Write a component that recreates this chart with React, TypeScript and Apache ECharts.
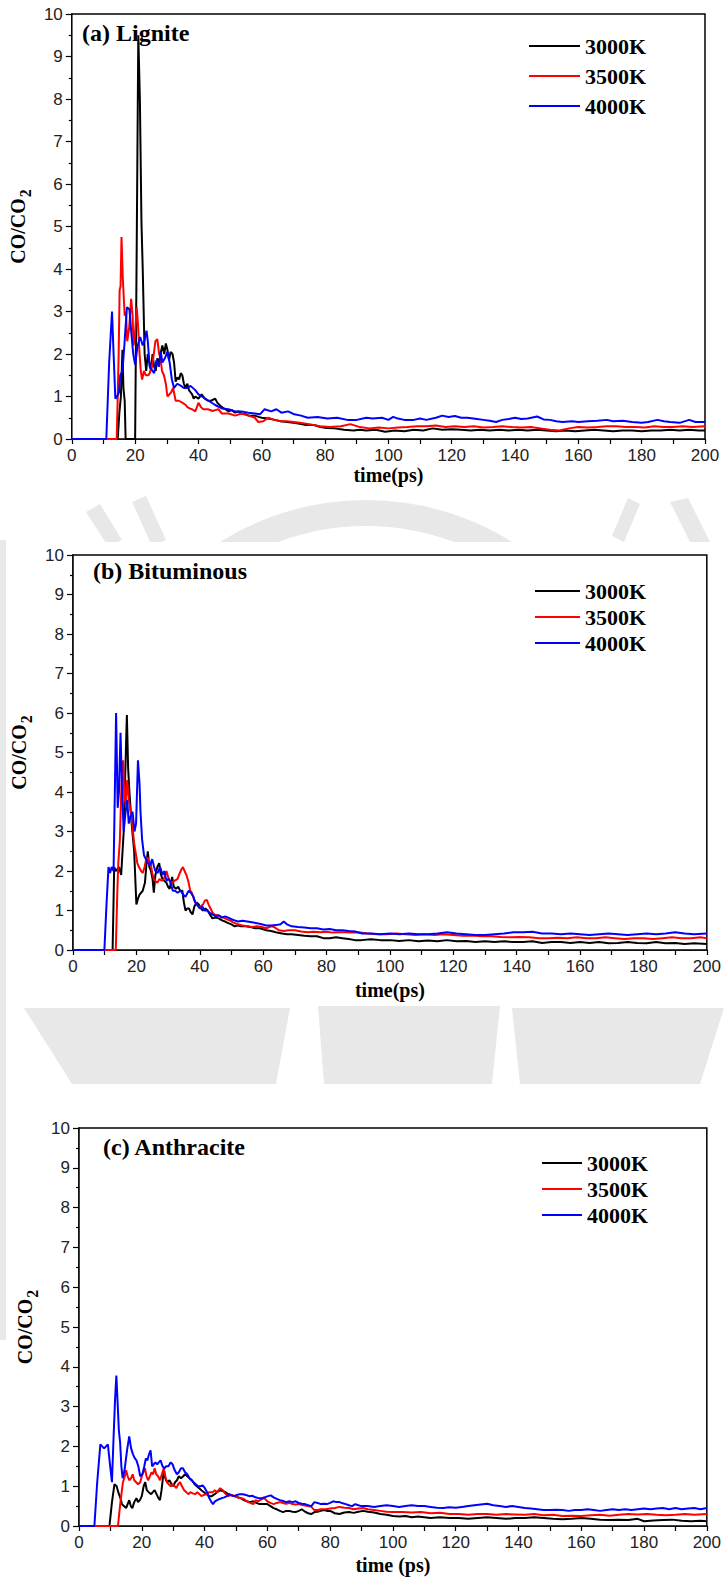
import React, { useEffect, useRef } from "react";
import * as echarts from "echarts";

// ---------- data ----------
const seriesNames = ["3000K", "3500K", "4000K"];
const seriesColors = ["#000000", "#ff0000", "#0000ff"];
const panelTitles = ["(a) Lignite", "(b) Bituminous", "(c) Anthracite"];
const xAxisNames = ["time(ps)", "time(ps)", "time (ps)"];
const yAxisName = "{m|CO/CO}{s|2}";

// (a) Lignite
const lignite3000 = [
  [0, 0], [14.5, 0], [15, 0.6], [15.5, 1.0], [16, 2.1], [16.3, 1.2], [16.7, 0.9], [17, 0], [20, 0], [20.5, 4.5], [21, 9.5], [21.5, 8.0], [22, 5.1], [22.4, 4.0], [23, 2.0], [23.5, 1.6], [24, 2.0], [24.5, 1.8], [25, 1.6], [25.5, 2.0], [26, 1.7], [26.5, 1.6], [27, 1.9], [27.5, 1.75], [28, 2.0], [28.6, 2.2], [29.2, 2.0], [29.7, 2.25], [30.2, 2.1], [30.7, 1.85], [31.2, 2.05], [31.8, 2.0], [32.3, 1.8], [32.8, 1.35], [33.4, 1.45], [33.9, 1.4], [34.4, 1.55], [34.9, 1.5], [35.4, 1.3], [35.9, 1.2], [36.5, 1.3], [37, 1.15], [37.5, 1.1], [38, 1.05], [38.5, 0.95], [39, 1.0], [40, 0.95], [41, 1.05], [42, 0.95], [43, 0.9], [44, 0.9], [45.3, 0.95], [46, 0.85], [47.4, 0.75], [48.5, 0.7], [49.5, 0.65], [50.5, 0.68], [51.6, 0.62], [52.6, 0.65], [53.6, 0.6], [55, 0.58], [56, 0.55], [57.8, 0.55], [59, 0.52], [60, 0.5], [62, 0.48], [64, 0.45], [66, 0.42], [68, 0.4], [70, 0.38], [72, 0.36], [74, 0.33], [76.5, 0.33], [78.5, 0.28], [80.5, 0.26], [83, 0.25], [86, 0.22], [89, 0.2], [91, 0.22],
  [93, 0.2], [96, 0.22], [99, 0.17], [102, 0.2], [105, 0.18], [108, 0.22], [111, 0.2], [114, 0.25], [117, 0.22], [120, 0.23], [123, 0.22], [126, 0.2], [129, 0.22], [132, 0.2], [135, 0.22], [138, 0.2], [141, 0.22], [144, 0.2], [147, 0.22], [150, 0.2], [153, 0.18], [156, 0.2], [159, 0.18], [162, 0.2], [165, 0.22], [168, 0.2], [171, 0.18], [174, 0.2], [177, 0.2], [180, 0.18], [183, 0.2], [186, 0.2], [189, 0.22], [192, 0.2], [195, 0.22], [198, 0.2], [200, 0.2],
];
const lignite3500 = [
  [0, 0], [14.2, 0], [14.8, 2.0], [15.1, 3.5], [15.4, 3.6], [15.7, 4.75], [16.1, 3.8], [16.7, 2.9], [17.1, 3.0], [17.5, 2.3], [18.1, 2.6], [18.75, 3.3], [19.2, 2.9], [19.5, 2.2], [19.9, 2.4], [20.5, 3.1], [20.9, 2.7], [21.4, 2.0], [21.8, 1.6], [22.2, 1.4], [22.8, 1.6], [23.4, 1.5], [24.2, 1.5], [24.6, 1.55], [25.3, 1.7], [25.9, 2.0], [26.4, 2.3], [27, 2.35], [27.6, 2.0], [28, 1.9], [28.5, 1.6], [29.1, 1.5], [29.7, 1.3], [30.2, 1.0], [30.8, 1.05], [31.4, 1.1], [32, 1.2], [32.8, 0.9], [33.8, 0.9], [35, 0.85], [36, 0.8], [36.5, 0.75], [37.2, 0.72], [38, 0.7], [39, 0.65], [40, 0.85], [40.8, 0.75], [41.5, 0.7], [43, 0.7], [44.5, 0.66], [45.3, 0.68], [46.3, 0.7], [47.4, 0.6], [49.5, 0.6], [51.6, 0.55], [53.6, 0.6], [55.7, 0.55], [57, 0.52], [57.8, 0.5], [58.9, 0.4], [60.5, 0.42], [62, 0.5], [64, 0.45], [66, 0.42], [68, 0.42], [70, 0.4], [72, 0.38], [75, 0.35], [78.5, 0.3], [81.5, 0.28], [85, 0.3], [88, 0.35], [91, 0.28], [94, 0.25],
  [97, 0.27], [100, 0.25], [103, 0.27], [106, 0.28], [109, 0.3], [112, 0.3], [115, 0.32], [118, 0.28], [121, 0.3], [124, 0.28], [127, 0.3], [130, 0.27], [133, 0.28], [136, 0.3], [139, 0.28], [142, 0.27], [145, 0.28], [148, 0.25], [151, 0.22], [154, 0.2], [157, 0.25], [160, 0.28], [163, 0.27], [166, 0.28], [169, 0.3], [172, 0.3], [175, 0.28], [178, 0.28], [181, 0.27], [184, 0.3], [187, 0.28], [190, 0.28], [193, 0.3], [196, 0.28], [200, 0.3],
];
const lignite4000 = [
  [0, 0], [10.9, 0], [11.8, 1.8], [12.7, 3.0], [13.2, 2.0], [13.75, 0.95], [14.3, 1.0], [14.9, 1.1], [15.3, 1.5], [16, 1.6], [16.6, 2.2], [17.4, 3.1], [18.2, 3.05], [18.8, 2.5], [19.4, 2.0], [20, 1.75], [20.8, 2.2], [21.6, 2.4], [22.4, 2.2], [22.9, 2.3], [23.6, 2.55], [24, 2.3], [24.6, 1.7], [25.5, 1.6], [26, 1.55], [26.7, 1.85], [27.5, 1.7], [28.1, 2.05], [28.6, 1.8], [29.4, 1.9], [30.2, 2.05], [30.9, 1.8], [31.6, 1.4], [32.3, 1.2], [33.3, 1.3], [34.5, 1.25], [35.4, 1.2], [36.5, 1.2], [37.5, 1.25], [39, 1.15], [40, 1.05], [41.1, 1.0], [43.2, 0.9], [45.3, 0.8], [47.4, 0.72], [49.5, 0.7], [51.6, 0.65], [53.6, 0.65], [55.7, 0.62], [57.8, 0.6], [59.4, 0.58], [60.9, 0.7], [63, 0.65], [64.6, 0.7], [66.2, 0.62], [68.3, 0.65], [70.3, 0.58], [72.4, 0.55], [74.5, 0.5], [77.6, 0.52], [80.7, 0.48], [83.8, 0.5], [87, 0.45], [90, 0.45], [93, 0.5],
  [95, 0.48], [98, 0.5], [100, 0.45], [101.5, 0.52], [103, 0.48], [105, 0.45], [108, 0.45], [110, 0.48], [112, 0.45], [115, 0.5], [117, 0.55], [119, 0.52], [121, 0.54], [123, 0.5], [125, 0.5], [128, 0.47], [130, 0.45], [132, 0.43], [134, 0.4], [136, 0.45], [138, 0.47], [140, 0.5], [142, 0.47], [144, 0.48], [147, 0.53], [149, 0.46], [151, 0.45], [153, 0.42], [155, 0.4], [158, 0.42], [160, 0.4], [163, 0.42], [166, 0.43], [169, 0.45], [171, 0.42], [174, 0.43], [177, 0.4], [180, 0.38], [182, 0.4], [185, 0.45], [187, 0.42], [189, 0.4], [192, 0.38], [195, 0.45], [197, 0.4], [200, 0.4],
];

// (b) Bituminous
const bituminous3000 = [
  [0, 0], [12.5, 0], [13, 2.1], [13.5, 2.0], [14, 2.05], [14.5, 2.1], [15.2, 1.9], [16, 3.0], [16.5, 4.5], [17, 5.95], [17.4, 4.6], [17.8, 4.0], [18.5, 3.2], [19.3, 2.5], [20, 1.15], [20.5, 1.3], [21, 1.4], [22, 1.5], [22.7, 1.7], [23.2, 2.2], [23.6, 2.5], [24.1, 2.1], [24.6, 2.0], [25.1, 1.8], [25.5, 1.45], [26, 1.9], [26.6, 2.1], [27.2, 2.2], [27.6, 1.95], [28.2, 1.8], [28.8, 1.75], [29.5, 1.7], [30, 1.6], [30.5, 1.55], [31.3, 1.85], [31.8, 1.6], [32.5, 1.55], [33.2, 1.6], [33.8, 1.5], [34.5, 1.5], [35, 1.2], [35.5, 1.0], [36, 1.05], [36.6, 1.05], [37.2, 0.95], [37.7, 0.9], [38.3, 1.1], [39, 1.2], [39.7, 1.15], [40.4, 1.05], [41, 1.0], [41.8, 1.05], [42.5, 1.0], [43.2, 0.9], [44, 0.8], [45, 0.82], [46, 0.8], [47, 0.75], [48, 0.72], [49, 0.68], [50, 0.65], [51, 0.6], [52, 0.62], [53, 0.6], [54.5, 0.6], [56, 0.58], [57.5, 0.55], [59, 0.55], [61, 0.5], [62.5, 0.48], [64, 0.45], [66, 0.42], [67.5, 0.4], [69, 0.4], [71, 0.38], [73, 0.36], [75, 0.35], [77, 0.35], [79, 0.3], [81, 0.3], [83, 0.32], [85, 0.3], [87, 0.28], [89, 0.25], [91, 0.25],
  [94, 0.27], [97, 0.25], [100, 0.25], [103, 0.23], [106, 0.25], [109, 0.22], [112, 0.24], [115, 0.22], [118, 0.25], [121, 0.22], [124, 0.23], [127, 0.2], [130, 0.22], [133, 0.2], [136, 0.22], [139, 0.2], [142, 0.2], [145, 0.22], [148, 0.18], [151, 0.2], [154, 0.2], [157, 0.18], [160, 0.2], [163, 0.18], [166, 0.2], [169, 0.17], [172, 0.18], [175, 0.2], [178, 0.18], [181, 0.17], [184, 0.2], [187, 0.17], [190, 0.18], [193, 0.15], [196, 0.17], [200, 0.15],
];
const bituminous3500 = [
  [0, 0], [13.5, 0], [14, 1.5], [14.3, 2.2], [14.8, 2.8], [15.3, 4.2], [15.8, 4.8], [16.2, 3.9], [16.6, 3.7], [17.1, 4.3], [17.6, 3.8], [18.2, 3.5], [18.8, 3.1], [19.3, 2.7], [19.7, 2.5], [20.3, 2.2], [20.8, 2.1], [21.5, 2.0], [22, 1.95], [22.6, 2.1], [23.1, 2.3], [23.5, 2.35], [24, 2.2], [24.5, 2.2], [25, 1.95], [25.5, 1.8], [26, 1.75], [26.6, 1.7], [27.3, 1.8], [28, 1.75], [28.7, 1.8], [29.5, 2.0], [30, 1.85], [30.5, 1.75], [31.2, 1.7], [32, 1.75], [33, 1.8], [33.7, 1.95], [34.3, 2.05], [34.7, 2.1], [35.2, 2.0], [35.8, 1.9], [36.5, 1.7], [37, 1.5], [37.5, 1.45], [38.3, 1.25], [39, 1.15], [39.6, 1.1], [40.3, 1.1], [41, 1.15], [41.6, 1.25], [42.2, 1.27], [42.8, 1.15], [43.4, 1.05], [44, 0.95], [44.6, 0.9], [45.5, 0.88], [46.5, 0.85], [47.5, 0.82], [48.5, 0.78], [49.5, 0.75], [50.5, 0.7], [52, 0.65], [53.5, 0.62], [55, 0.6], [56.5, 0.58], [58, 0.6], [59.5, 0.58], [61, 0.55], [62.5, 0.6], [63.5, 0.58], [65, 0.5], [66.5, 0.48], [68, 0.5], [70, 0.5], [72, 0.47], [74, 0.45], [76, 0.46], [78, 0.45], [80, 0.46], [82, 0.44], [84, 0.45], [86, 0.45], [88, 0.44], [90, 0.45],
  [93, 0.42], [96, 0.4], [99, 0.4], [102, 0.42], [105, 0.4], [108, 0.38], [111, 0.4], [114, 0.38], [117, 0.4], [120, 0.38], [123, 0.36], [126, 0.37], [129, 0.35], [132, 0.35], [135, 0.33], [138, 0.32], [141, 0.33], [144, 0.32], [147, 0.3], [150, 0.3], [153, 0.31], [156, 0.3], [159, 0.32], [162, 0.3], [165, 0.3], [168, 0.32], [171, 0.3], [174, 0.28], [177, 0.3], [180, 0.3], [183, 0.28], [186, 0.3], [189, 0.32], [192, 0.3], [195, 0.3], [198, 0.32], [200, 0.3],
];
const bituminous4000 = [
  [0, 0], [9.9, 0], [10.6, 1.2], [11.2, 2.1], [11.7, 1.95], [12.2, 2.1], [12.8, 2.0], [13.2, 4.0], [13.6, 6.0], [14.1, 3.6], [14.5, 4.0], [15, 5.5], [15.5, 4.0], [16, 3.0], [16.6, 3.5], [17.1, 3.8], [17.6, 3.2], [18.2, 3.4], [18.8, 3.5], [19.4, 3.0], [19.9, 3.2], [20.5, 4.8], [21, 4.2], [21.3, 3.5], [21.8, 2.8], [22.4, 2.4], [23, 2.3], [23.6, 2.2], [24.3, 2.15], [25, 2.3], [25.6, 2.1], [26, 2.0], [26.7, 1.95], [27.5, 2.1], [28.3, 1.9], [28.8, 2.0], [29.5, 1.75], [30.1, 1.8], [30.6, 1.75], [31.5, 1.5], [32.2, 1.5], [33, 1.45], [34, 1.5], [34.8, 1.4], [35.5, 1.35], [36.5, 1.5], [37.2, 1.45], [38, 1.35], [38.6, 1.2], [39.2, 1.15], [40, 1.05], [40.8, 1.1], [41.5, 1.0], [42.3, 1.0], [43, 0.95], [44, 0.9], [45, 0.85], [46, 0.88], [47, 0.82], [48, 0.85], [49, 0.82], [50, 0.78], [51, 0.75], [52, 0.72], [53.5, 0.74], [55, 0.72], [56.5, 0.7], [58, 0.68], [59.5, 0.65], [61, 0.62], [62.5, 0.62], [64, 0.63], [65.5, 0.65], [66.5, 0.72], [67.5, 0.65], [69, 0.6], [71, 0.58], [73, 0.57], [75, 0.55], [77, 0.55], [79, 0.52], [81, 0.53], [83, 0.5], [85, 0.5], [87, 0.48], [89, 0.47], [91, 0.42],
  [94, 0.42], [97, 0.4], [100, 0.42], [103, 0.4], [106, 0.42], [109, 0.4], [112, 0.4], [115, 0.42], [118, 0.45], [121, 0.42], [124, 0.4], [127, 0.38], [130, 0.38], [133, 0.4], [136, 0.42], [139, 0.45], [142, 0.45], [145, 0.46], [148, 0.42], [151, 0.42], [154, 0.4], [157, 0.42], [160, 0.4], [163, 0.38], [166, 0.4], [169, 0.42], [172, 0.4], [175, 0.38], [178, 0.4], [181, 0.42], [184, 0.4], [187, 0.42], [190, 0.45], [193, 0.42], [196, 0.4], [200, 0.42],
];

// (c) Anthracite
const anthracite3000 = [
  [0, 0], [9.7, 0], [10.5, 0.6], [11.3, 1.05], [12, 1.0], [12.5, 0.85], [13.2, 0.7], [13.7, 0.55], [14.3, 0.5], [15, 0.45], [15.5, 0.55], [16, 0.65], [16.5, 0.5], [17, 0.45], [17.6, 0.6], [18.3, 0.7], [18.8, 0.6], [19.4, 0.65], [20, 0.75], [20.6, 1.0], [21.1, 1.1], [21.6, 0.9], [22.2, 0.85], [23, 0.8], [23.5, 0.85], [24.1, 0.9], [24.7, 0.8], [25.3, 0.7], [25.8, 0.65], [26.3, 0.9], [27, 1.4], [27.5, 1.2], [28.1, 1.1], [28.8, 1.15], [29.5, 1.05], [30, 1.0], [30.6, 1.1], [31.2, 1.15], [31.8, 1.25], [32.5, 1.2], [33.2, 1.25], [33.8, 1.3], [34.5, 1.25], [35.2, 1.2], [36, 1.15], [36.8, 1.05], [37.5, 1.0], [38.3, 0.95], [39, 0.9], [39.8, 0.85], [40.6, 0.8], [41.5, 0.75], [42.3, 0.75], [43.2, 0.8], [44, 0.85], [45, 0.9], [45.8, 0.88], [46.6, 0.85], [47.5, 0.8], [48.5, 0.78], [49.5, 0.75], [50.5, 0.72], [51.5, 0.7], [52.5, 0.65], [53.5, 0.62], [54.5, 0.6], [55.5, 0.62], [56.5, 0.58], [57.5, 0.55], [58.5, 0.55], [60, 0.55], [61, 0.5], [62, 0.45], [63, 0.42], [64, 0.38], [65, 0.35], [66, 0.38], [67, 0.38], [68, 0.36], [69, 0.35], [70, 0.38], [71, 0.42], [72, 0.36], [73, 0.32], [74, 0.3], [75, 0.35], [76, 0.36], [77, 0.38], [78, 0.4], [79, 0.38], [80, 0.38], [81.5, 0.32], [83, 0.3], [84.5, 0.34], [86, 0.35], [87.5, 0.33], [89, 0.36], [90.5, 0.38], [92, 0.36], [94, 0.34], [96, 0.3], [98, 0.28],
  [100, 0.25], [102, 0.24], [104, 0.25], [106, 0.22], [108, 0.24], [110, 0.22], [112, 0.2], [115, 0.22], [118, 0.2], [121, 0.2], [124, 0.18], [127, 0.2], [130, 0.22], [133, 0.2], [136, 0.18], [139, 0.2], [142, 0.2], [145, 0.22], [148, 0.2], [151, 0.18], [154, 0.17], [157, 0.18], [160, 0.2], [163, 0.18], [166, 0.16], [169, 0.15], [172, 0.16], [175, 0.15], [178, 0.18], [180, 0.12], [183, 0.14], [186, 0.15], [189, 0.16], [192, 0.13], [195, 0.12], [198, 0.13], [200, 0.12],
];
const anthracite3500 = [
  [0, 0], [12.4, 0], [13.2, 0.6], [14, 1.1], [14.6, 1.25], [15, 1.4], [15.5, 1.25], [16, 1.15], [16.6, 1.2], [17.1, 1.3], [17.6, 1.15], [18.2, 1.1], [18.8, 1.05], [19.5, 1.1], [20.2, 1.3], [21, 1.45], [21.5, 1.25], [22, 1.15], [22.6, 1.25], [23.1, 1.35], [23.6, 1.3], [24.1, 1.45], [24.6, 1.3], [25.2, 1.25], [25.8, 1.15], [26.4, 1.3], [27, 1.45], [27.5, 1.25], [28, 1.1], [28.6, 1.05], [29.2, 1.0], [29.8, 1.05], [30.5, 1.0], [31, 0.95], [31.6, 1.05], [32.2, 1.1], [32.8, 1.0], [33.5, 0.9], [34.2, 0.85], [34.8, 0.8], [35.5, 0.85], [36.2, 0.82], [37, 0.8], [37.7, 0.85], [38.4, 0.8], [39, 0.75], [39.8, 0.78], [40.5, 0.8], [41.5, 0.85], [42.5, 0.85], [43.3, 0.9], [44, 0.85], [45, 0.95], [45.8, 0.9], [46.5, 0.82], [47.5, 0.75], [48.5, 0.78], [49.5, 0.75], [50.5, 0.72], [51.5, 0.7], [52.5, 0.68], [53.5, 0.62], [54.5, 0.58], [55.5, 0.55], [56.3, 0.65], [57, 0.62], [58, 0.66], [59, 0.7], [60, 0.62], [61, 0.58], [62, 0.55], [63, 0.58], [64, 0.6], [65, 0.58], [66, 0.56], [67, 0.58], [68, 0.55], [69, 0.54], [70, 0.55], [71.5, 0.52], [73, 0.5], [74, 0.48], [75, 0.4], [76, 0.4], [77, 0.42], [78.5, 0.42], [80, 0.44], [81.5, 0.45], [83, 0.48], [84.5, 0.46], [86, 0.45], [87.5, 0.42], [89, 0.44], [90.5, 0.45], [92, 0.42], [94, 0.4], [96, 0.38], [98, 0.36],
  [100, 0.35], [103, 0.35], [106, 0.34], [109, 0.35], [112, 0.32], [115, 0.33], [118, 0.3], [121, 0.3], [124, 0.28], [127, 0.3], [130, 0.3], [133, 0.28], [136, 0.3], [139, 0.29], [142, 0.28], [145, 0.3], [148, 0.27], [151, 0.28], [154, 0.25], [157, 0.26], [160, 0.25], [163, 0.27], [166, 0.28], [169, 0.26], [172, 0.28], [175, 0.3], [178, 0.29], [181, 0.3], [184, 0.28], [187, 0.27], [190, 0.28], [193, 0.3], [196, 0.28], [200, 0.3],
];
const anthracite4000 = [
  [0, 0], [4.9, 0], [5.8, 1.1], [6.8, 2.05], [7.4, 2.0], [8, 1.95], [8.6, 2.0], [9.2, 2.05], [9.8, 1.6], [10.5, 1.1], [11, 2.2], [11.5, 3.2], [11.9, 3.78], [12.3, 3.1], [12.7, 2.4], [13.1, 2.1], [13.5, 1.5], [13.9, 1.2], [14.5, 1.4], [15.3, 1.9], [16, 2.25], [16.6, 1.95], [17.2, 1.8], [17.8, 1.7], [18.3, 1.65], [18.9, 1.5], [19.5, 1.25], [20.2, 1.3], [20.8, 1.5], [21.3, 1.7], [21.8, 1.65], [22.3, 1.8], [22.8, 1.9], [23.3, 1.5], [23.8, 1.55], [24.3, 1.6], [24.9, 1.55], [25.4, 1.6], [26, 1.65], [26.6, 1.5], [27.2, 1.45], [27.8, 1.5], [28.5, 1.5], [29.2, 1.6], [29.8, 1.55], [30.5, 1.4], [31.2, 1.3], [31.8, 1.35], [32.5, 1.45], [33.1, 1.45], [33.8, 1.35], [34.5, 1.3], [35.2, 1.2], [35.8, 1.15], [36.5, 1.1], [37.2, 1.05], [37.9, 1.0], [38.6, 1.0], [39.4, 1.02], [40.1, 0.95], [40.8, 0.85], [41.5, 0.7], [42.2, 0.6], [42.7, 0.55], [43.3, 0.62], [44, 0.65], [44.8, 0.68], [45.5, 0.7], [46.3, 0.72], [47.1, 0.75], [47.8, 0.8], [48.6, 0.77], [49.4, 0.75], [50.3, 0.78], [51.2, 0.8], [52.2, 0.8], [53.2, 0.78], [54.2, 0.75], [55.2, 0.76], [56.2, 0.72], [57.2, 0.7], [58.2, 0.7], [59.2, 0.72], [60.2, 0.75], [61.1, 0.77], [62, 0.72], [63, 0.68], [64, 0.65], [65, 0.63], [66, 0.6], [67, 0.62], [68, 0.6], [69, 0.62], [70, 0.58], [71, 0.56], [72, 0.55], [73, 0.52], [74, 0.5], [75, 0.6], [76, 0.58], [77, 0.55], [78, 0.56], [79, 0.55], [80, 0.58], [81, 0.62], [82, 0.6], [83, 0.6], [84, 0.57], [85, 0.55], [86, 0.52], [87, 0.5], [88, 0.55], [89, 0.52], [90, 0.5],
  [92, 0.5], [94, 0.48], [96, 0.5], [98, 0.52], [100, 0.5], [102, 0.48], [104, 0.5], [106, 0.52], [108, 0.5], [110, 0.5], [112, 0.48], [114, 0.46], [116, 0.45], [118, 0.47], [120, 0.46], [122, 0.48], [124, 0.5], [126, 0.52], [128, 0.54], [130, 0.56], [132, 0.52], [134, 0.5], [136, 0.48], [138, 0.5], [140, 0.48], [142, 0.45], [144, 0.44], [146, 0.42], [148, 0.4], [150, 0.4], [152, 0.41], [154, 0.4], [156, 0.38], [158, 0.4], [160, 0.4], [162, 0.42], [164, 0.4], [166, 0.38], [168, 0.4], [170, 0.42], [172, 0.4], [174, 0.42], [176, 0.4], [178, 0.42], [180, 0.44], [182, 0.42], [184, 0.44], [186, 0.45], [188, 0.42], [190, 0.45], [192, 0.42], [194, 0.44], [196, 0.45], [198, 0.42], [200, 0.45],
];

const panelData = [
  [lignite3000, lignite3500, lignite4000],
  [bituminous3000, bituminous3500, bituminous4000],
  [anthracite3000, anthracite3500, anthracite4000],
];

// ---------- layout ----------
const SERIF = "'Liberation Serif', 'Times New Roman', serif";
const SANS = "'Liberation Sans', Arial, sans-serif";

const grids = [
  { left: 68, top: 14, width: 637, height: 425 },
  { left: 73, top: 555, width: 635, height: 395 },
  { left: 79, top: 1128, width: 628, height: 398 },
];
const yNameGaps = [27, 37, 33];
const xNameGaps = [25, 30, 29];
const titlePos = [
  { left: 82, top: 21 },
  { left: 93, top: 559 },
  { left: 103, top: 1135 },
];
const legendPos = [
  { left: 529, top: 35, width: 51, gap: 8 },
  { left: 535, top: 580, width: 45, gap: 4 },
  { left: 542, top: 1152, width: 40, gap: 4 },
];

function buildOption() {
  const grid = grids.map((g) => ({
    left: g.left,
    top: g.top,
    width: g.width,
    height: g.height,
    show: true,
    borderColor: "#000",
    borderWidth: 1.5,
    backgroundColor: "#fff",
    z: 1,
  }));

  const xAxis = grids.map((_, i) => ({
    type: "value",
    gridIndex: i,
    min: 0,
    max: 200,
    interval: 20,
    name: xAxisNames[i],
    nameLocation: "middle",
    nameGap: xNameGaps[i],
    nameTextStyle: { fontFamily: SERIF, fontWeight: "bold", fontSize: 20, color: "#000" },
    axisLine: { show: true, onZero: false, lineStyle: { color: "#000", width: 1.5 } },
    axisTick: { show: true, inside: false, length: 5, lineStyle: { color: "#000", width: 1.2 } },
    minorTick: { show: true, splitNumber: 2, length: 5, lineStyle: { color: "#000", width: 1.2 } },
    splitLine: { show: false },
    minorSplitLine: { show: false },
    axisLabel: { fontFamily: SANS, fontSize: 17, color: "#222", margin: 8 },
  }));

  const yAxis = grids.map((_, i) => ({
    type: "value",
    gridIndex: i,
    min: 0,
    max: 10,
    interval: 1,
    name: yAxisName,
    nameLocation: "middle",
    nameGap: yNameGaps[i],
    nameTextStyle: {
      fontFamily: SERIF,
      fontWeight: "bold",
      fontSize: 20,
      color: "#000",
      rich: {
        m: { fontFamily: SERIF, fontWeight: "bold", fontSize: 20, color: "#000", verticalAlign: "top", lineHeight: 22 },
        s: { fontFamily: SERIF, fontWeight: "bold", fontSize: 16, color: "#000", verticalAlign: "top", lineHeight: 16, padding: [9, 0, 0, 1] },
      },
    },
    axisLine: { show: true, onZero: false, lineStyle: { color: "#000", width: 1.5 } },
    axisTick: { show: true, inside: false, length: 6, lineStyle: { color: "#000", width: 1.2 } },
    minorTick: { show: true, splitNumber: 2, length: 3, lineStyle: { color: "#000", width: 1.2 } },
    splitLine: { show: false },
    minorSplitLine: { show: false },
    axisLabel: { fontFamily: SANS, fontSize: 17, color: "#222", margin: 9 },
  }));

  const series: any[] = [];
  panelData.forEach((panel, pi) => {
    panel.forEach((data, si) => {
      series.push({
        type: "line",
        name: seriesNames[si],
        xAxisIndex: pi,
        yAxisIndex: pi,
        data,
        showSymbol: false,
        symbol: "none",
        lineStyle: { color: seriesColors[si], width: 2 },
        itemStyle: { color: seriesColors[si] },
        z: 3 + si,
      });
    });
  });

  const title = panelTitles.map((t, i) => ({
    text: t,
    left: titlePos[i].left,
    top: titlePos[i].top,
    padding: 0,
    textStyle: { fontFamily: SERIF, fontWeight: "bold", fontSize: 24, color: "#000" },
  }));

  const legend = legendPos.map((l) => ({
    data: seriesNames,
    orient: "vertical",
    left: l.left,
    top: l.top,
    padding: 0,
    itemGap: l.gap,
    itemWidth: l.width,
    itemHeight: 2,
    icon: "rect",
    selectedMode: false,
    textStyle: { fontFamily: SERIF, fontWeight: "bold", fontSize: 22, color: "#000" },
  }));

  const wm = "#e8e8e8";
  const graphic = [
    // watermark fragments between panels
    { type: "arc", z: -20, shape: { cx: 366, cy: 775, r: 262, startAngle: -2.28, endAngle: -0.86 }, style: { stroke: wm, lineWidth: 26, fill: null } },
    { type: "polygon", z: -20, shape: { points: [[86, 512], [100, 504], [122, 540], [108, 546]] }, style: { fill: wm } },
    { type: "polygon", z: -20, shape: { points: [[132, 502], [146, 496], [166, 540], [152, 546]] }, style: { fill: wm } },
    { type: "polygon", z: -20, shape: { points: [[628, 498], [640, 504], [624, 542], [612, 536]] }, style: { fill: wm } },
    { type: "polygon", z: -20, shape: { points: [[670, 502], [688, 498], [710, 542], [692, 546]] }, style: { fill: wm } },
    { type: "polygon", z: -20, shape: { points: [[24, 1008], [290, 1008], [276, 1084], [72, 1084]] }, style: { fill: wm } },
    { type: "polygon", z: -20, shape: { points: [[318, 1006], [500, 1006], [492, 1084], [324, 1084]] }, style: { fill: wm } },
    { type: "polygon", z: -20, shape: { points: [[512, 1008], [724, 1008], [700, 1084], [520, 1084]] }, style: { fill: wm } },
    { type: "rect", z: -20, shape: { x: 0, y: 540, width: 6, height: 800 }, style: { fill: wm } },
    // white panel backgrounds
    { type: "rect", z: -10, shape: { x: 0, y: 0, width: 724, height: 494 }, style: { fill: "#fff" } },
    { type: "rect", z: -10, shape: { x: 6, y: 542, width: 718, height: 460 }, style: { fill: "#fff" } },
    { type: "rect", z: -10, shape: { x: 6, y: 1084, width: 718, height: 496 }, style: { fill: "#fff" } },
  ];

  return {
    animation: false,
    backgroundColor: "#fff",
    title,
    legend,
    grid,
    xAxis,
    yAxis,
    series,
    graphic,
  };
}

export default function App() {
  const ref = useRef<HTMLDivElement | null>(null);
  useEffect(() => {
    if (!ref.current) return;
    const chart = echarts.init(ref.current, undefined, { renderer: "svg" });
    chart.setOption(buildOption() as any);
    return () => chart.dispose();
  }, []);
  return (
    <div
      ref={ref}
      style={{ position: "absolute", left: 0, top: 0, width: 724, height: 1580, background: "#fff" }}
    />
  );
}
